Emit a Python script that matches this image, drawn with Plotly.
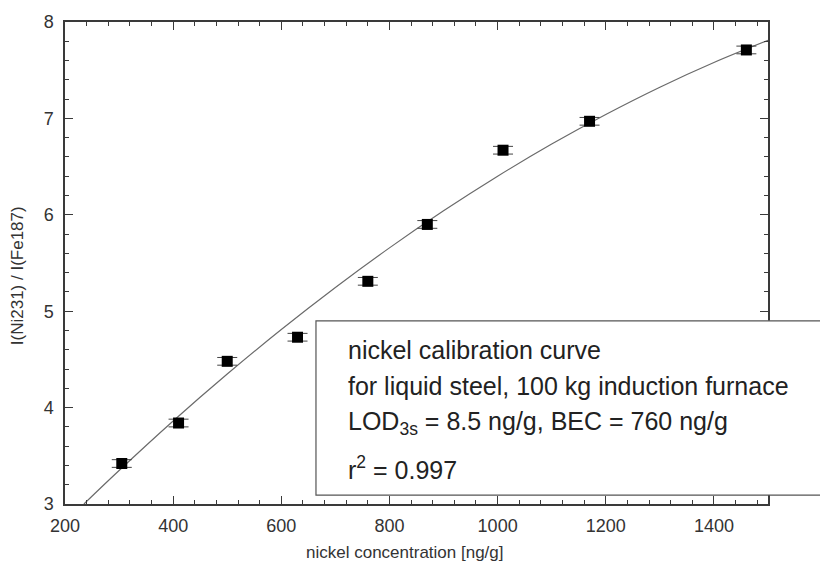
import plotly.graph_objects as go

# measured data
conc = [305, 410, 500, 630, 760, 870, 1010, 1170, 1460]
ratio = [3.42, 3.84, 4.48, 4.73, 5.31, 5.90, 6.67, 6.97, 7.71]
ratio_err = [0.04, 0.04, 0.04, 0.04, 0.04, 0.04, 0.04, 0.04, 0.04]

# calibration curve
curve_x = [235, 300, 400, 500, 600, 700, 800, 900, 1000, 1100, 1200, 1300, 1400, 1500]
curve_y = [3.000, 3.347, 3.861, 4.348, 4.810, 5.246, 5.657, 6.041, 6.400, 6.734, 7.041, 7.324, 7.580, 7.810]

legend_lines = [
    "nickel calibration curve",
    "for liquid steel, 100 kg induction furnace",
    "LOD<sub>3s</sub> = 8.5 ng/g, BEC = 760 ng/g",
    "r<sup>2</sup> = 0.997",
]
x_title = "nickel concentration [ng/g]"
y_title = "I(Ni231) / I(Fe187)"

FONT = "Liberation Sans, Arial, sans-serif"
AX = "#3a3a3a"

fig = go.Figure()
fig.add_trace(go.Scatter(
    x=curve_x, y=curve_y, mode="lines",
    line=dict(color="#6a6a6a", width=1.2, shape="spline"),
    hoverinfo="skip", showlegend=False,
))
fig.add_trace(go.Scatter(
    x=conc, y=ratio, mode="markers",
    marker=dict(symbol="square", size=11, color="black"),
    error_y=dict(type="data", array=ratio_err, color="#444", thickness=1, width=10),
    showlegend=False,
))

axis_common = dict(
    showgrid=False, zeroline=False, showline=True, linecolor=AX, linewidth=1.5,
    mirror="ticks", ticks="inside", ticklen=8, tickwidth=1.2, tickcolor=AX,
    tickfont=dict(family=FONT, size=18, color="#333"),
)

fig.update_xaxes(
    range=[200, 1500], dtick=200, tick0=200,
    minor=dict(dtick=40, ticks="inside", ticklen=4, tickcolor=AX, tickwidth=1),
    ticklabelstandoff=5,
    **axis_common,
)
fig.update_yaxes(
    range=[3, 8], dtick=1, tick0=3,
    minor=dict(dtick=0.2, ticks="inside", ticklen=4, tickcolor=AX, tickwidth=1),
    ticklabelstandoff=6,
    **axis_common,
)

# axis titles (placed as in the reference, slightly off-centre)
fig.add_annotation(xref="paper", yref="paper", x=0.4836, y=-0.100, text=x_title,
                   showarrow=False, xanchor="center", yanchor="middle",
                   font=dict(family=FONT, size=17, color="#333"))
fig.add_annotation(xref="paper", yref="paper", x=-0.068, y=0.473, text=y_title,
                   showarrow=False, xanchor="center", yanchor="middle", textangle=-90,
                   font=dict(family=FONT, size=17, color="#333"))

# legend box (extends past the right edge)
fig.add_shape(type="rect", xref="paper", yref="paper",
              x0=0.357, x1=1.09, y0=0.0185, y1=0.380,
              line=dict(color="#555", width=1.2), fillcolor="white", layer="above")

line_y = [0.320, 0.244, 0.168, 0.074]
for txt, yy in zip(legend_lines, line_y):
    fig.add_annotation(xref="paper", yref="paper", x=0.400, y=yy, text=txt,
                       showarrow=False, xanchor="left", yanchor="middle",
                       font=dict(family=FONT, size=25, color="#222"))

fig.update_layout(
    width=820, height=571,
    margin=dict(l=65, r=52, t=17, b=67),
    paper_bgcolor="white", plot_bgcolor="white",
)

fig.write_html("out.html")
